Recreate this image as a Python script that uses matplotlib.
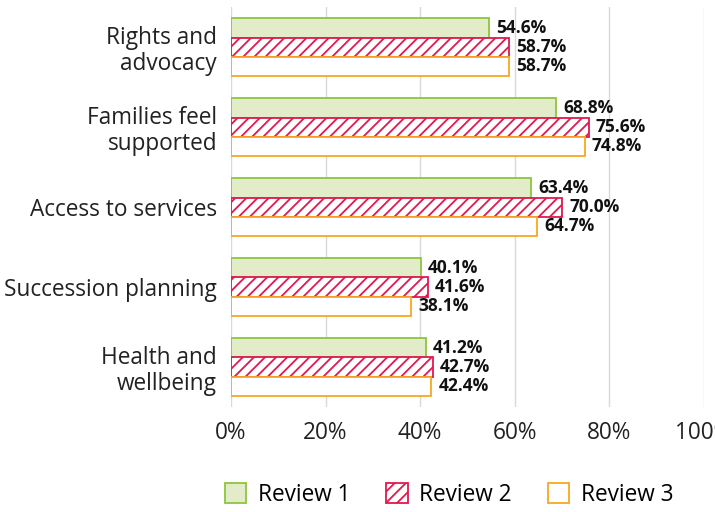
import matplotlib.pyplot as plt
import numpy as np

categories = ['Rights and\nadvocacy', 'Families feel\nsupported', 'Access to services',
              'Succession planning', 'Health and\nwellbeing']
review1 = [54.6, 68.8, 63.4, 40.1, 41.2]
review2 = [58.7, 75.6, 70.0, 41.6, 42.7]
review3 = [58.7, 74.8, 64.7, 38.1, 42.4]
series_names = ['Review 1', 'Review 2', 'Review 3']

plt.rcParams['font.family'] = ['Open Sans', 'DejaVu Sans']
plt.rcParams['hatch.linewidth'] = 1.3

fig = plt.figure(figsize=(7.15, 5.12), dpi=100)
ax = fig.add_axes([0.323, 0.205, 0.6615, 0.781])

y = np.arange(len(categories))
h = 0.24
styles = [
    dict(facecolor='#e2ecc9', edgecolor='#8cc63e', hatch=None),
    dict(facecolor='white', edgecolor='#e0194f', hatch='///'),
    dict(facecolor='white', edgecolor='#f6a821', hatch=None),
]
for i, (vals, st, name) in enumerate(zip([review1, review2, review3], styles, series_names)):
    pos = y + (i - 1) * h
    ax.barh(pos, vals, height=h, linewidth=1.3, label=name, zorder=3, **st)
    for p, v in zip(pos, vals):
        ax.text(v + 1.5, p, f'{v:.1f}%', va='center', ha='left',
                fontsize=12.5, fontweight='bold', color='#111111', zorder=4)

ax.set_xlim(0, 100)
ax.set_ylim(len(categories) - 0.5, -0.5)
ax.set_yticks(y)
ax.set_yticklabels(categories, fontsize=16.3, color='#222222', linespacing=1.1)
ax.set_xticks(np.arange(0, 101, 20))
ax.set_xticklabels([f'{t}%' for t in range(0, 101, 20)], fontsize=16.3, color='#222222')
ax.tick_params(length=0, pad=10)
ax.tick_params(axis='x', pad=10)
ax.grid(axis='x', color='#d9d9d9', linewidth=1, zorder=0)
for s in ax.spines.values():
    s.set_visible(False)

leg = fig.legend(loc='center', bbox_to_anchor=(0.628, 0.033), ncol=3, frameon=False,
                 fontsize=16.3, handlelength=0.95, handleheight=1.0, columnspacing=1.6,
                 handletextpad=0.5)

fig.savefig('out.png', dpi=100)
